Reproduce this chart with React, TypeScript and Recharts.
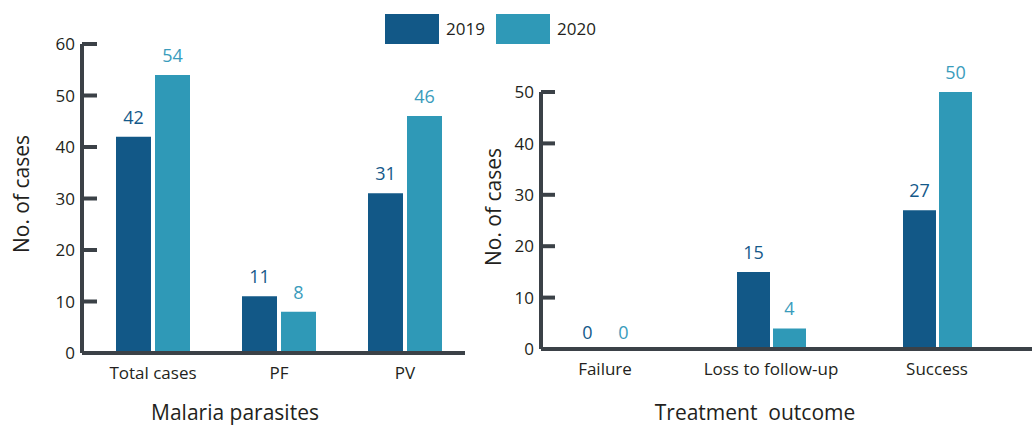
import React from 'react';
import { BarChart, Bar, XAxis, YAxis, LabelList, Label } from 'recharts';

const parasiteCats = ['Total cases', 'PF', 'PV'];
const parasite2019 = [42, 11, 31];
const parasite2020 = [54, 8, 46];
const parasiteTicks = [0, 10, 20, 30, 40, 50, 60];

const outcomeCats = ['Failure', 'Loss to follow-up', 'Success'];
const outcome2019 = [0, 15, 27];
const outcome2020 = [0, 4, 50];
const outcomeTicks = [0, 10, 20, 30, 40, 50];

const years = ['2019', '2020'];

const DARK = '#125887';
const LIGHT = '#2f99b7';
const DARK_TXT = '#14598a';
const LIGHT_TXT = '#3a9cbc';
const AXIS = '#3b4147';
const TEXT = '#231f20';
const FONT = '"Open Sans", sans-serif';

const parasiteData = parasiteCats.map((name, i) => ({ name, y2019: parasite2019[i], y2020: parasite2020[i] }));
const outcomeData = outcomeCats.map((name, i) => ({ name, y2019: outcome2019[i], y2020: outcome2020[i] }));

// tick mark drawn inward (to the right of the axis), label to the left
const makeYTick = (len: number) => (props: any) => {
  const { x, y, payload } = props;
  return (
    <g>
      <line x1={x} x2={x + len} y1={y} y2={y} stroke={AXIS} strokeWidth={4} />
      <text x={x - 7} y={y} dy="0.36em" textAnchor="end" fontSize={17} fill={TEXT} fontFamily={FONT}>
        {payload.value}
      </text>
    </g>
  );
};

const XTick = (props: any) => {
  const { x, y, payload } = props;
  return (
    <text x={x} y={y + 26} textAnchor="middle" fontSize={17} fill={TEXT} fontFamily={FONT}>
      {payload.value}
    </text>
  );
};

const xTitle = (text: string, cx: number) => () => (
  <text x={cx} y={420} textAnchor="middle" fontSize={21} fill={TEXT} fontFamily={FONT} style={{ whiteSpace: 'pre' }}>
    {text}
  </text>
);

const yTitle = (cx: number, cy: number) => () => (
  <text x={cx} y={cy} transform={`rotate(-90 ${cx} ${cy})`} textAnchor="middle" fontSize={21} fill={TEXT} fontFamily={FONT}>
    No. of cases
  </text>
);

// value label above each bar (also for zero-height bars)
const valueLabel = (color: string) => (p: any) => {
  const { x, y, width, height, value } = p;
  if (value === undefined || value === null) return null;
  const top = Math.min(Number(y), Number(y) + Number(height));
  const lift = Number(value) === 0 ? 9 : 13;
  return (
    <text x={Number(x) + Number(width) / 2} y={top - lift} textAnchor="middle" fontSize={18} fill={color} fontFamily={FONT}>
      {String(value)}
    </text>
  );
};

export default function App() {
  return (
    <div style={{ position: 'absolute', left: 0, top: 0, width: 1032, height: 425, background: '#fff', fontFamily: FONT }}>
      <div style={{ position: 'absolute', left: 385, top: 14, width: 54, height: 30, background: DARK }} />
      <div style={{ position: 'absolute', left: 446, top: 14, height: 30, lineHeight: '30px', fontSize: 17, color: TEXT }}>{years[0]}</div>
      <div style={{ position: 'absolute', left: 496, top: 14, width: 54, height: 30, background: LIGHT }} />
      <div style={{ position: 'absolute', left: 557, top: 14, height: 30, lineHeight: '30px', fontSize: 17, color: TEXT }}>{years[1]}</div>

      <div style={{ position: 'absolute', left: 0, top: 0 }}>
        <BarChart width={470} height={425} data={parasiteData} margin={{ top: 44, right: 5, left: 0, bottom: 0 }} barSize={35} barGap={4}>
          <XAxis
            dataKey="name"
            height={72}
            padding={{ left: 8, right: -3 }}
            axisLine={{ stroke: AXIS, strokeWidth: 4 }}
            tickLine={false}
            tickSize={0}
            tickMargin={0}
            tick={XTick}
            interval={0}
          >
            <Label content={xTitle('Malaria parasites', 235)} />
          </XAxis>
          <YAxis
            width={82}
            domain={[0, 60]}
            ticks={parasiteTicks}
            axisLine={{ stroke: AXIS, strokeWidth: 4 }}
            tickLine={false}
            tickSize={0}
            tickMargin={0}
            tick={makeYTick(15)}
            interval={0}
          >
            <Label content={yTitle(29, 194)} />
          </YAxis>
          <Bar dataKey="y2019" fill={DARK} isAnimationActive={false}>
            <LabelList dataKey="y2019" content={valueLabel(DARK_TXT)} />
          </Bar>
          <Bar dataKey="y2020" fill={LIGHT} isAnimationActive={false}>
            <LabelList dataKey="y2020" content={valueLabel(LIGHT_TXT)} />
          </Bar>
        </BarChart>
      </div>

      <div style={{ position: 'absolute', left: 470, top: 0 }}>
        <BarChart width={562} height={425} data={outcomeData} margin={{ top: 92, right: 0, left: 0, bottom: 0 }} barSize={33} barGap={3}>
          <XAxis
            dataKey="name"
            height={76}
            padding={{ left: -19, right: 12 }}
            axisLine={{ stroke: AXIS, strokeWidth: 4 }}
            tickLine={false}
            tickSize={0}
            tickMargin={0}
            tick={XTick}
            interval={0}
          >
            <Label content={xTitle('Treatment  outcome', 285)} />
          </XAxis>
          <YAxis
            width={71}
            domain={[0, 50]}
            ticks={outcomeTicks}
            axisLine={{ stroke: AXIS, strokeWidth: 4 }}
            tickLine={false}
            tickSize={0}
            tickMargin={0}
            tick={makeYTick(14)}
            interval={0}
          >
            <Label content={yTitle(31, 207)} />
          </YAxis>
          <Bar dataKey="y2019" fill={DARK} minPointSize={1} isAnimationActive={false}>
            <LabelList dataKey="y2019" content={valueLabel(DARK_TXT)} />
          </Bar>
          <Bar dataKey="y2020" fill={LIGHT} minPointSize={1} isAnimationActive={false}>
            <LabelList dataKey="y2020" content={valueLabel(LIGHT_TXT)} />
          </Bar>
        </BarChart>
      </div>
    </div>
  );
}
